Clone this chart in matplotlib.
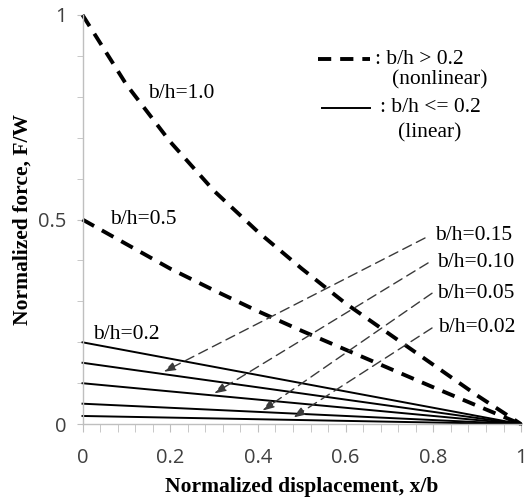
import matplotlib
matplotlib.use("Agg")
import matplotlib.pyplot as plt
import numpy as np
from matplotlib.lines import Line2D

# nonlinear curves
x_nl = [0, 0.1, 0.2, 0.3, 0.4, 0.5, 0.6, 0.7, 0.8, 0.9, 1.0]
f_10 = [1.0, 0.83, 0.69, 0.57, 0.47, 0.38, 0.295, 0.22, 0.145, 0.07, 0.0]
f_05 = [0.5, 0.44, 0.38, 0.327, 0.276, 0.228, 0.182, 0.136, 0.09, 0.045, 0.0]

# linear cases: F/W at x=0, going to 0 at x=1
x_lin = [0, 1]
bh_lin = [0.2, 0.15, 0.10, 0.05, 0.02]
f0_lin = [0.2, 0.15, 0.10, 0.05, 0.02]

# annotation labels, label position, arrow tip
ann_labels = ["b/h=0.15", "b/h=0.10", "b/h=0.05", "b/h=0.02"]
ann_text = [(0.804, 0.462), (0.808, 0.396), (0.808, 0.32), (0.810, 0.237)]
ann_from = [(0.781, 0.455), (0.788, 0.394), (0.797, 0.32), (0.797, 0.235)]
ann_tip = [(0.185, 0.128), (0.30, 0.075), (0.41, 0.033), (0.48, 0.016)]

serif = "Liberation Serif"
tickfont = "Open Sans"

fig = plt.figure(figsize=(5.29, 4.99), dpi=100)
ax = fig.add_axes([0.156, 0.150, 0.829, 0.820])

thick = dict(color="black", lw=2.8, dashes=(3.4, 2.3), solid_capstyle="butt", clip_on=False)
ax.plot(x_nl, f_10, **thick)
ax.plot(x_nl, f_05, **thick)

for f0 in f0_lin:
    ax.plot(x_lin, [f0, 0], color="black", lw=1.4, clip_on=False)

# arrows from labels to the lines
for lab, tp, fr, tip in zip(ann_labels, ann_text, ann_from, ann_tip):
    ax.text(tp[0], tp[1], lab, family=serif, fontsize=15.5, va="center", ha="left")
    ax.annotate("", xy=tip, xytext=fr,
                arrowprops=dict(arrowstyle="-|>,head_length=0.7,head_width=0.25",
                                color="#3a3a3a", lw=1.0, ls=(0, (7, 4)),
                                shrinkA=0, shrinkB=0))

ax.text(0.150, 0.808, "b/h=1.0", family=serif, fontsize=15.5, va="center")
ax.text(0.062, 0.499, "b/h=0.5", family=serif, fontsize=15.5, va="center")
ax.text(0.024, 0.218, "b/h=0.2", family=serif, fontsize=15.5, va="center")

# hand-made legend
ax.add_line(Line2D([0.537, 0.655], [0.892, 0.892], color="black", lw=2.8,
                   dashes=(3.4, 2.3), transform=ax.transData))
ax.add_line(Line2D([0.546, 0.655], [0.773, 0.773], color="black", lw=1.4,
                   transform=ax.transData))
ax.text(0.667, 0.892, ": b/h > 0.2", family=serif, fontsize=15.5, va="center")
ax.text(0.705, 0.841, "(nonlinear)", family=serif, fontsize=15.5, va="center")
ax.text(0.678, 0.773, ": b/h <= 0.2", family=serif, fontsize=15.5, va="center")
ax.text(0.719, 0.711, "(linear)", family=serif, fontsize=15.5, va="center")

ax.set_xlim(0, 1)
ax.set_ylim(0, 1)
ax.set_xticks([0, 0.2, 0.4, 0.6, 0.8, 1.0])
ax.set_xticklabels(["0", "0.2", "0.4", "0.6", "0.8", "1"])
ax.set_xticks(np.arange(0, 1.001, 0.04), minor=True)
ax.set_yticks([0, 0.5, 1.0])
ax.set_yticklabels(["0", "0.5", "1"])
ax.set_yticks(np.arange(0, 1.001, 0.1), minor=True)

for s in ["top", "right"]:
    ax.spines[s].set_visible(False)
for s in ["left", "bottom"]:
    ax.spines[s].set_color("#bfbfbf")
    ax.spines[s].set_linewidth(1.0)

ax.tick_params(axis="x", which="both", length=6, color="#bfbfbf", pad=11,
               labelsize=14.5, labelcolor="#404040")
ax.tick_params(axis="y", which="both", length=4.5, color="#bfbfbf", pad=7,
               labelsize=14.5, labelcolor="#404040")
for t in ax.get_xticklabels() + ax.get_yticklabels():
    t.set_family(tickfont)

ax.set_xlabel("Normalized displacement, x/b", family=serif, fontsize=15.5,
              fontweight="bold", labelpad=7)
ax.set_ylabel("Normalized force, F/W", family=serif, fontsize=15.5,
              fontweight="bold", labelpad=4)

fig.savefig("out.png", dpi=100)
